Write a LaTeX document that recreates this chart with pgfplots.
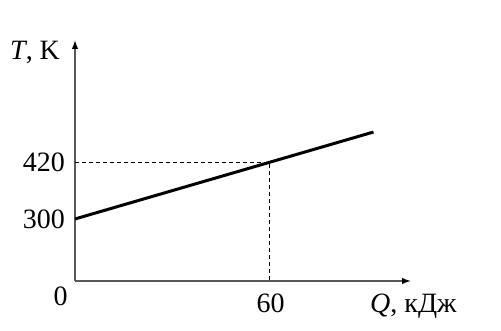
\documentclass[border=0pt]{standalone}
\usepackage{fontspec}
\setmainfont{Liberation Serif}
\usepackage{pgfplots}
\pgfplotsset{compat=1.18}
\usetikzlibrary{arrows.meta}
\begin{document}
\begin{tikzpicture}
\begin{axis}[
  at={(0pt,0pt)}, anchor=origin,
  scale only axis, width=336pt, height=241pt,
  xmin=0, xmax=103.9, ymin=168.3, ymax=680,
  axis lines=left,
  axis line style={black!65, line width=1.4pt, -{Latex[length=9pt,width=6.5pt,color=black]}},
  xtick={60}, ytick={300,420},
  major tick length=0pt,
  clip=false,
  /pgf/number format/assume math mode=true,
  ticklabel style={font=\fontsize{28}{32}\selectfont, inner sep=0pt},
  xticklabel style={anchor=base, yshift=-32pt, xshift=1.5pt},
  yticklabel style={anchor=east, xshift=-10pt},
]
\addplot[black, line width=1pt, dash pattern=on 4pt off 3pt] coordinates {(0,420) (60,420) (60,168.3)};
\addplot[black, line width=3pt] coordinates {(0,300) (92.3,484.6)};
\node[anchor=base, inner sep=0pt, font=\fontsize{28}{32}\selectfont] at ([shift={(-14.3pt,-24.5pt)}]rel axis cs:0,0) {0};
\node[anchor=base west, inner sep=0pt, font=\fontsize{28}{32}\selectfont] at ([shift={(295pt,-32pt)}]rel axis cs:0,0) {\textit{Q}, кДж};
\node[anchor=base west, inner sep=0pt, font=\fontsize{28}{32}\selectfont] at ([shift={(-65pt,221pt)}]rel axis cs:0,0) {\textit{T}, K};
\end{axis}
\pgfresetboundingbox
\path (-75pt,-50pt) rectangle (426pt,281pt);
\end{tikzpicture}
\end{document}
